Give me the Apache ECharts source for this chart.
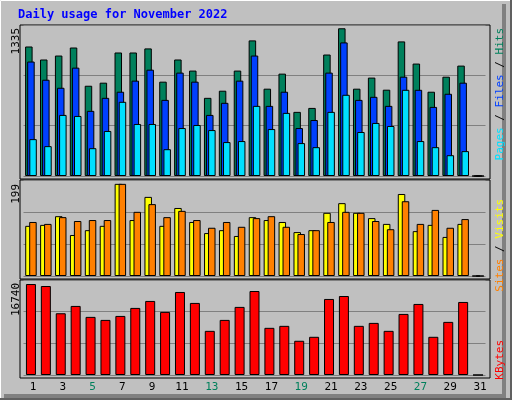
<!DOCTYPE html>
<html><head><meta charset="utf-8">
<script src="https://cdn.jsdelivr.net/npm/echarts@6/dist/echarts.min.js"></script>
<style>html,body{margin:0;padding:0;background:#c0c0c0}#c{width:512px;height:400px}</style>
</head><body><div id="c"></div>
<script>
const days = Array.from({length:31},(_,i)=>String(i+1));
const weekendDays = ['5','6','12','13','19','20','26','27'];
const hits  = [1145,1030,1065,1136,798,825,1092,1092,1128,834,1030,932,691,754,932,1199,772,905,567,602,1074,1306,772,870,763,1190,994,745,878,976,0];
const files = [1012,851,780,958,576,691,745,843,940,673,914,834,540,647,843,1065,620,745,424,495,914,1181,673,700,620,878,762,611,727,825,0];
const pages = [326,264,540,531,246,398,656,460,460,237,424,451,406,300,309,620,415,558,291,255,567,718,389,469,442,762,309,255,184,220,0];
const visits= [104,106,124,85,95,104,191,116,164,104,141,112,89,95,83,122,116,112,91,95,131,151,131,120,108,170,93,106,81,108,0];
const sites = [112,108,122,114,116,116,191,133,149,122,135,116,100,112,102,120,124,102,87,95,112,133,131,114,97,155,108,137,100,118,0];
const kbytes= [16030,15680,10880,12170,10240,9710,10410,11820,13050,11120,14630,12700,7780,9710,12000,14800,8310,8660,6030,6730,13400,13920,8660,9180,7780,10760,12520,6730,9360,12870,0];
const axisMax = [1335,199,16740];

const FONT = 'DejaVu Sans Mono';
const panels = [{top:25,h:151},{top:180,h:96},{top:280,h:95}];
const grids = panels.map(p=>({left:23.5,right:26.5,top:p.top,height:p.h}));
const xAxes = panels.map((p,i)=>({type:'category',gridIndex:i,data:days,
  axisLine:{show:false},axisTick:{show:false},
  axisLabel:{show:i===2,margin:7,fontFamily:FONT,fontSize:11,padding:[0,0,0,4],
    color:(v)=>weekendDays.includes(v)?'#00805c':'#000'}}));
const yAxes = axisMax.map((m,i)=>({type:'value',gridIndex:i,min:0,max:m,interval:m/3,
  axisLabel:{show:false},axisLine:{show:false},axisTick:{show:false},
  splitLine:{lineStyle:{color:'#808080',width:1}}}));
const bs = (name,data,color,gi,w,gap)=>({type:'bar',name,data,xAxisIndex:gi,yAxisIndex:gi,
  barWidth:w,barGap:gap,itemStyle:{color,borderColor:'#000',borderWidth:1},silent:true,animation:false});

const lbl = (text,x,y,color,size)=>({type:'text',x,y,rotation:Math.PI/2,
  style:{text,fill:color,font:`${size||11}px "${FONT}"`,textAlign:'right',textVerticalAlign:'middle'}});
const rect = (y1,y2)=>({type:'rect',shape:{x:20,y:y1,width:470,height:y2-y1},
  style:{fill:'#c0c0c0',stroke:'#000',lineWidth:1},z:-10});

const chart = echarts.init(document.getElementById('c'));
chart.setOption({
  backgroundColor:'#c0c0c0', animation:false,
  grid:grids, xAxis:xAxes, yAxis:yAxes,
  series:[
    bs('Hits',hits,'#00805c',0,7.5,'-72%'),
    bs('Files',files,'#0040ff',0,7.5,'-72%'),
    bs('Pages',pages,'#00e0ff',0,7.5,'-72%'),
    bs('Visits',visits,'#ffff00',1,7.5,'-47%'),
    bs('Sites',sites,'#ff8000',1,7.5,'-47%'),
    bs('KBytes',kbytes,'#ff0000',2,10,'0%')
  ],
  graphic:[
    {type:'rect',shape:{x:0.5,y:0.5,width:510,height:398},style:{fill:'none',stroke:'#fff',lineWidth:1},z:-20},
    {type:'polyline',shape:{points:[[511,0],[511,399],[0,399]]},style:{stroke:'#606060',lineWidth:2,fill:'none'},z:-19},
    {type:'polyline',shape:{points:[[504,4],[504,396],[4,396]]},style:{stroke:'#808080',lineWidth:4,fill:'none'},z:-19},
    rect(25,179),rect(180,279),rect(280,378),
    {type:'text',x:18,y:15,style:{text:'Daily usage for November 2022',fill:'#0000ff',font:`bold 12px "${FONT}"`,textVerticalAlign:'middle'}},
    lbl(String(axisMax[0]),16,28,'#000'),
    lbl(String(axisMax[1]),16,184,'#000'),
    lbl(String(axisMax[2]),16,283,'#000'),
    {type:'text',x:500,y:28,rotation:Math.PI/2,style:{text:'{p|Pages} / {f|Files} / {h|Hits}',fill:'#000',
      font:`11px "${FONT}"`,textAlign:'right',textVerticalAlign:'middle',
      rich:{p:{fill:'#00e0ff',font:`11px "${FONT}"`},f:{fill:'#0040ff',font:`11px "${FONT}"`},h:{fill:'#00805c',font:`11px "${FONT}"`}}}},
    {type:'text',x:500,y:199,rotation:Math.PI/2,style:{text:'{s|Sites} / {v|Visits}',fill:'#000',
      font:`11px "${FONT}"`,textAlign:'right',textVerticalAlign:'middle',
      rich:{s:{fill:'#ff8000',font:`11px "${FONT}"`},v:{fill:'#ffff00',font:`11px "${FONT}"`}}}},
    {type:'text',x:500,y:340,rotation:Math.PI/2,style:{text:'KBytes',fill:'#ff0000',
      font:`11px "${FONT}"`,textAlign:'right',textVerticalAlign:'middle'}}
  ]
});
</script></body></html>
